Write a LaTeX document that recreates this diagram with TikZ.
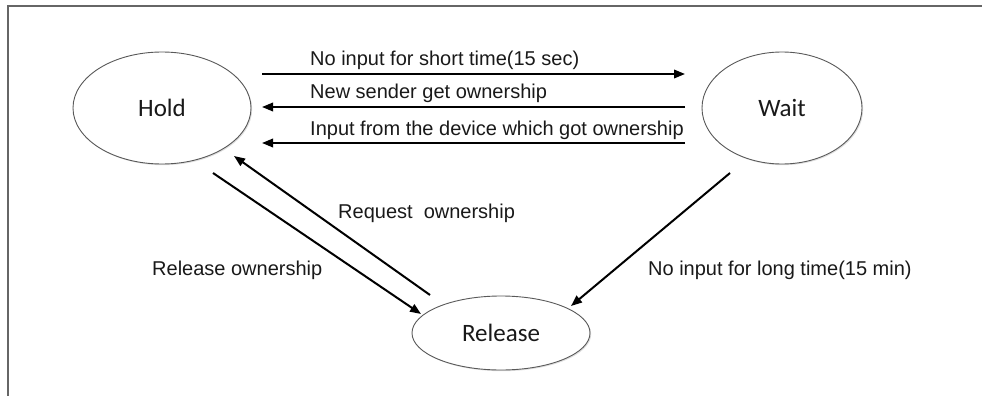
\documentclass[tikz,border=0pt]{standalone}
\usepackage{fontspec}
\setmainfont{Liberation Sans}
\newfontfamily\statefont{Carlito}
\usetikzlibrary{arrows.meta,shadows,shapes.geometric}

\tikzset{
  state/.style={ellipse, draw=black!65, line width=0.9pt, fill=white,
    drop shadow={shadow xshift=1.2pt, shadow yshift=-1.2pt, opacity=0.25},
    inner sep=0pt, font=\statefont\fontsize{25}{30}\selectfont, text=black!90},
  trans/.style={line width=2pt, black, -{Triangle[length=11pt,width=8.5pt]}},
  lbl/.style={anchor=base west, inner sep=0pt, text=black!90,
    font=\fontsize{20}{24}\selectfont},
  frame/.style={black!60, line width=1.4pt}
}

\begin{document}
\begin{tikzpicture}[x=1pt, y=-1pt]
  \useasboundingbox (0,0) rectangle (982,396);

  % page frame (top and left edges)
  \draw[frame] (8,396) -- (8,6) -- (982,6);

  % states
  \node[state, minimum width=178pt, minimum height=112pt] (hold) at (162,108) {Hold};
  \node[state, minimum width=160pt, minimum height=112pt] (wait) at (782,108) {Wait};
  \node[state, minimum width=178pt, minimum height=74pt] (release) at (501,333) {Release};

  % connector end points
  \coordinate (hA) at (262,74);  \coordinate (wA) at (685,74);
  \coordinate (hB) at (262,107); \coordinate (wB) at (685,107);
  \coordinate (hC) at (262,143); \coordinate (wC) at (685,143);
  \coordinate (hD) at (213,173); \coordinate (rD) at (421,314);
  \coordinate (rE) at (430,295); \coordinate (hE) at (234,156);
  \coordinate (wF) at (730,173); \coordinate (rF) at (571,306);

  % transitions between Hold and Wait
  \draw[trans] (hA) -- (wA);
  \draw[trans] (wB) -- (hB);
  \draw[trans] (wC) -- (hC);

  % transitions to and from Release
  \draw[trans] (hD) -- (rD);
  \draw[trans] (rE) -- (hE);
  \draw[trans] (wF) -- (rF);

  % transition labels
  \node[lbl] (l1) at (310,66) {No input for short time(15 sec)};
  \node[lbl] (l2) at (310,98) {New sender get ownership};
  \node[lbl] (l3) at (310,135) {Input from the device which got ownership};
  \node[lbl] (l4) at (338,218) {Request\ \ ownership};
  \node[lbl] (l5) at (152,275) {Release ownership};
  \node[lbl] (l6) at (648,275) {No input for long time(15 min)};
\end{tikzpicture}
\end{document}
